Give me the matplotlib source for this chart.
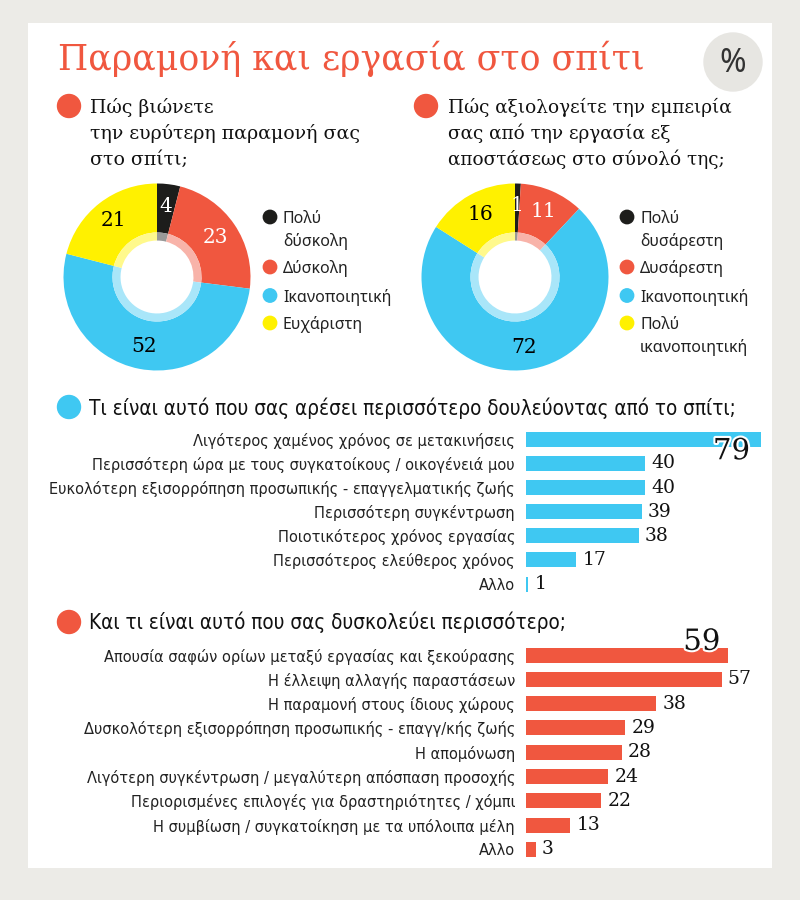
import matplotlib
matplotlib.use('Agg')
import matplotlib.pyplot as plt
import matplotlib.patheffects as pe
from matplotlib.patches import Circle, Rectangle
from matplotlib.colors import to_rgb

W, H = 800, 900

title = 'Παραμονή και εργασία στο σπίτι'

q1_title = ['Πώς βιώνετε', 'την ευρύτερη παραμονή σας', 'στο σπίτι;']
q1_labels = ['Πολύ\nδύσκολη', 'Δύσκολη', 'Ικανοποιητική', 'Ευχάριστη']
q1_vals = [4, 23, 52, 21]

q2_title = ['Πώς αξιολογείτε την εμπειρία', 'σας από την εργασία εξ', 'αποστάσεως στο σύνολό της;']
q2_labels = ['Πολύ\nδυσάρεστη', 'Δυσάρεστη', 'Ικανοποιητική', 'Πολύ\nικανοποιητική']
q2_vals = [1, 11, 72, 16]

q3_title = 'Τι είναι αυτό που σας αρέσει περισσότερο δουλεύοντας από το σπίτι;'
q3_labels = ['Λιγότερος χαμένος χρόνος σε μετακινήσεις',
             'Περισσότερη ώρα με τους συγκατοίκους / οικογένειά μου',
             'Ευκολότερη εξισορρόπηση προσωπικής - επαγγελματικής ζωής',
             'Περισσότερη συγκέντρωση',
             'Ποιοτικότερος χρόνος εργασίας',
             'Περισσότερος ελεύθερος χρόνος',
             'Αλλο']
q3_vals = [79, 40, 40, 39, 38, 17, 1]

q4_title = 'Και τι είναι αυτό που σας δυσκολεύει περισσότερο;'
q4_labels = ['Απουσία σαφών ορίων μεταξύ εργασίας και ξεκούρασης',
             'Η έλλειψη αλλαγής παραστάσεων',
             'Η παραμονή στους ίδιους χώρους',
             'Δυσκολότερη εξισορρόπηση προσωπικής - επαγγ/κής ζωής',
             'Η απομόνωση',
             'Λιγότερη συγκέντρωση / μεγαλύτερη απόσπαση προσοχής',
             'Περιορισμένες επιλογές για δραστηριότητες / χόμπι',
             'Η συμβίωση / συγκατοίκηση με τα υπόλοιπα μέλη',
             'Αλλο']
q4_vals = [59, 57, 38, 29, 28, 24, 22, 13, 3]

BLACK = '#1d1d1b'
RED = '#f0573f'
BLUE = '#3fc8f2'
YELLOW = '#fff100'
pie_colors = [BLACK, RED, BLUE, YELLOW]
pie_txt = ['white', 'white', 'black', 'black']

SERIF = ['DejaVu Serif']
SANS = ['Noto Sans', 'DejaVu Sans']
NARROW = dict(family=['DejaVu Sans Condensed', 'DejaVu Sans'], stretch='condensed')


def px_axes(fig, x, y, w, h):
    return fig.add_axes([x / W, 1 - (y + h) / H, w / W, h / H])


def lighten(c, f):
    r, g, b = to_rgb(c)
    return (r + (1 - r) * f, g + (1 - g) * f, b + (1 - b) * f)


def donut(fig, cx, cy, vals):
    r = 93.5
    ax = px_axes(fig, cx - r, cy - r, 2 * r, 2 * r)
    wedges, texts = ax.pie(vals, colors=pie_colors, radius=1, startangle=90,
                           counterclock=False, labels=[str(v) for v in vals],
                           labeldistance=0.76,
                           wedgeprops=dict(width=0.524, linewidth=0),
                           textprops=dict(fontsize=14.5, family=SERIF))
    for t, c in zip(texts, pie_txt):
        t.set_ha('center')
        t.set_va('center')
        t.set_color(c)
    # pale inner ring
    ax.pie(vals, colors=[lighten(c, 0.55) for c in pie_colors], radius=0.476,
           startangle=90, counterclock=False,
           wedgeprops=dict(width=0.086, linewidth=0))
    ax.set_xlim(-1, 1)
    ax.set_ylim(-1, 1)
    ax.set_aspect('equal')
    ax.axis('off')


def legend(bg, x, ys, labels):
    for y, lab, c in zip(ys, labels, pie_colors):
        bg.add_patch(Circle((x, y), 6.7, color=c))
        for k, line in enumerate(lab.split('\n')):
            bg.text(x + 13, y + 6 + 23 * k, line, family=SANS, fontsize=11.5,
                    va='baseline', color='#222222')


def bars(fig, top, step, labels, vals, color, scale):
    n = len(vals)
    ax = px_axes(fig, 525.5, top - step / 2, 240, n * step)
    ax.barh(range(n), vals, height=15 / step, color=color)
    ax.set_xlim(0, 240 / scale)
    ax.set_ylim(n - 0.5, -0.5)
    ax.set_yticks(range(n), labels, fontsize=11.7, color='#222222', **NARROW)
    ax.tick_params(axis='y', length=0, pad=7.5)
    ax.set_xticks([])
    for s in ax.spines.values():
        s.set_visible(False)
    ax.patch.set_alpha(0)
    for i, v in enumerate(vals[1:], start=1):
        ax.annotate(str(v), xy=(v, i), xytext=(4.5, 0), textcoords='offset points',
                    va='center', ha='left', family=SERIF, fontsize=13.5, color='#111111')
    return ax


fig = plt.figure(figsize=(8, 9), dpi=100, facecolor='#ecebe7')
bg = fig.add_axes([0, 0, 1, 1])
bg.set_xlim(0, W)
bg.set_ylim(H, 0)
bg.axis('off')
bg.add_patch(Rectangle((28, 23), 744, 845, facecolor='white', edgecolor='none'))

bg.text(58, 70, title, color=RED, fontsize=25, family=SERIF, va='baseline')
bg.add_patch(Circle((733, 62), 29, color='#e7e6e2'))
bg.text(733, 63, '%', fontsize=23, family=SANS, color='#333333', ha='center', va='center')

# donut questions
bg.add_patch(Circle((69, 106), 11.5, color=RED))
for i, line in enumerate(q1_title):
    bg.text(90, 113 + 26 * i, line, family=SERIF, fontsize=13.6, va='baseline', color='#111111')
bg.add_patch(Circle((426, 106), 11.5, color=RED))
for i, line in enumerate(q2_title):
    bg.text(448, 113 + 26 * i, line, family=SERIF, fontsize=13.3, va='baseline', color='#111111')

donut(fig, 157, 277, q1_vals)
donut(fig, 515, 277, q2_vals)
legend(bg, 270, [217, 267, 295.5, 323], q1_labels)
legend(bg, 627, [217, 267, 295.5, 323], q2_labels)

# bar questions
bg.add_patch(Circle((69, 407), 11.5, color=BLUE))
bg.text(89, 415, q3_title, fontsize=14.9, va='baseline', color='#111111', **NARROW)
bg.add_patch(Circle((69, 622), 11.5, color=RED))
bg.text(89, 629, q4_title, fontsize=14.9, va='baseline', color='#111111', **NARROW)

ax3 = bars(fig, 439.3, 24.12, q3_labels, q3_vals, BLUE, 2.98)
ax3.annotate(str(q3_vals[0]), xy=(q3_vals[0], 0), xytext=(-7.7, -8.6),
             textcoords='offset points', ha='right', va='center', family=SERIF,
             fontsize=21, color='#111111',
             path_effects=[pe.withStroke(linewidth=3, foreground='white')])

ax4 = bars(fig, 655, 24.3, q4_labels, q4_vals, RED, 3.44)
ax4.annotate(str(q4_vals[0]), xy=(q4_vals[0], 0), xytext=(-5.8, 9.5),
             textcoords='offset points', ha='right', va='center', family=SERIF,
             fontsize=21, color='#111111',
             path_effects=[pe.withStroke(linewidth=3, foreground='white')])

fig.savefig('out.png', dpi=100, facecolor=fig.get_facecolor())
